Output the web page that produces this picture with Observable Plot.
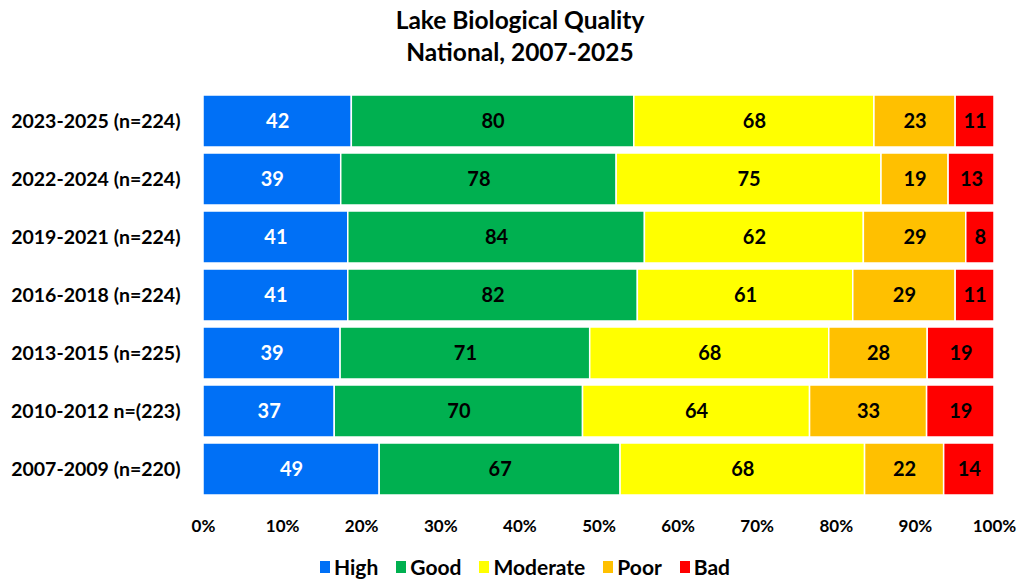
<!DOCTYPE html>
<html>
<head>
<meta charset="utf-8">
<script src="https://cdn.jsdelivr.net/npm/d3@7"></script>
<script src="https://cdn.jsdelivr.net/npm/@observablehq/plot@0.6"></script>
<style>
  body { margin: 0; background: #fff; font-family: Lato, "Liberation Sans", sans-serif; }
  #title { text-align: center; font-weight: bold; font-size: 24.5px; line-height: 32px; padding-top: 4px; height: 66px; color: #000; padding-left: 16px; }
  #legend { display: flex; justify-content: center; font-weight: bold; font-size: 21px; margin-top: 4px; padding-left: 26px; }
  .item { display: flex; align-items: center; margin: 0 9px; }
  .sw { width: 10px; height: 12px; margin-right: 4px; display: inline-block; }
</style>
</head>
<body>
<div id="title">Lake Biological Quality<br>National, 2007-2025</div>
<div id="chart"></div>
<div id="legend"></div>
<script>
const periods = [
  "2023-2025 (n=224)",
  "2022-2024 (n=224)",
  "2019-2021 (n=224)",
  "2016-2018 (n=224)",
  "2013-2015 (n=225)",
  "2010-2012 n=(223)",
  "2007-2009 (n=220)"
];
const levels = ["High", "Good", "Moderate", "Poor", "Bad"];
const colors = ["#0070F6", "#00B050", "#FFFF00", "#FFC000", "#FF0000"];
const high     = [42, 39, 41, 41, 39, 37, 49];
const good     = [80, 78, 84, 82, 71, 70, 67];
const moderate = [68, 75, 62, 61, 68, 64, 68];
const poor     = [23, 19, 29, 29, 28, 33, 22];
const bad      = [11, 13, 8, 11, 19, 19, 14];
const xTicks = [0, 0.1, 0.2, 0.3, 0.4, 0.5, 0.6, 0.7, 0.8, 0.9, 1];

const series = [high, good, moderate, poor, bad];
const data = [];
periods.forEach((p, i) => {
  levels.forEach((lv, j) => data.push({period: p, level: lv, value: series[j][i]}));
});

const stackOpts = {x: "value", y: "period", z: "level", offset: "normalize", order: levels};

const chart = Plot.plot({
  width: 1024,
  height: 480,
  marginLeft: 203,
  marginRight: 30,
  marginTop: 20,
  marginBottom: 50,
  style: {fontFamily: "Lato, 'Liberation Sans', sans-serif", fontWeight: "bold", fontSize: "17px", color: "#000", background: "#fff"},
  x: {domain: [0, 1], ticks: xTicks, tickFormat: d3.format(".0%"), tickSize: 0, tickPadding: 19, label: null},
  y: {domain: periods, paddingInner: 0.1, paddingOuter: 0.05, tickSize: 0, tickPadding: 23, label: null},
  color: {domain: levels, range: colors},
  marks: [
    Plot.barX(data, Plot.stackX({...stackOpts, fill: "level", stroke: "white", strokeWidth: 1.5, inset: 0})),
    Plot.axisY({tickSize: 0, tickPadding: 23, fontSize: 19.5, fontWeight: "bold"}),
    Plot.text(data, Plot.filter(d => d.level === "High", Plot.stackX({...stackOpts, text: "value", fill: "white", fontSize: 20, fontWeight: "bold"}))),
    Plot.text(data, Plot.filter(d => d.level !== "High", Plot.stackX({...stackOpts, text: "value", fill: "black", fontSize: 20, fontWeight: "bold"})))
  ]
});
document.getElementById("chart").appendChild(chart);

const legend = document.getElementById("legend");
levels.forEach((lv, j) => {
  const it = document.createElement("span");
  it.className = "item";
  const sw = document.createElement("span");
  sw.className = "sw";
  sw.style.background = colors[j];
  it.appendChild(sw);
  it.appendChild(document.createTextNode(lv));
  legend.appendChild(it);
});
</script>
</body>
</html>
